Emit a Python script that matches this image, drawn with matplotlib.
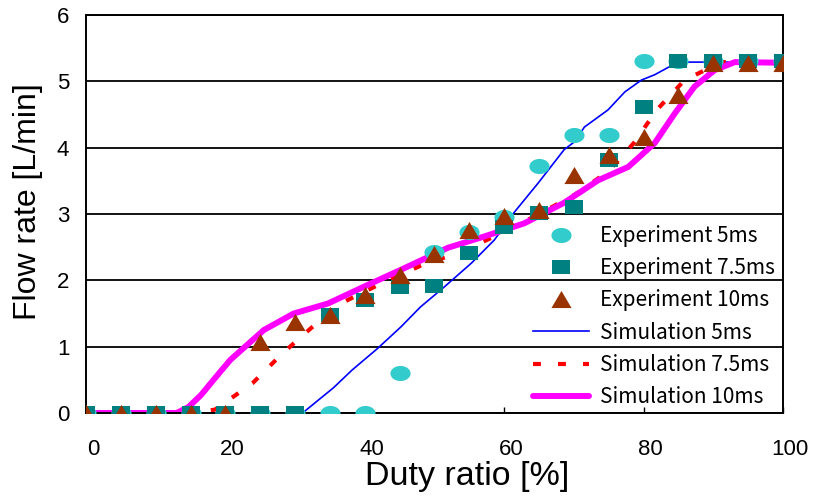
import numpy as np
import matplotlib
matplotlib.use("Agg")
import matplotlib.pyplot as plt
from matplotlib.transforms import ScaledTranslation

# ---------------- data ----------------
duty = [0, 5, 10, 15, 20, 25, 30, 35, 40, 45, 50, 55, 60, 65, 70, 75, 80, 85, 90, 95, 100]
exp_5ms = [0, 0, 0, 0, 0, 0, 0, 0, 0, 0.6, 2.43, 2.73, 2.96, 3.72, 4.19, 4.19, 5.3, 5.3, 5.3, 5.3, 5.3]
exp_75ms = [0, 0, 0, 0, 0, 0, 0, 1.48, 1.7, 1.9, 1.92, 2.41, 2.8, 3.02, 3.1, 3.82, 4.61, 5.3, 5.3, 5.3, 5.3]
exp_10ms = [0, 0, 0, 0, 0, 1.07, 1.37, 1.48, 1.78, 2.08, 2.4, 2.76, 2.97, 3.06, 3.59, 3.89, 4.16, 4.8, 5.28, 5.28, 5.28]

sim5_x = [0, 30, 31.3, 32.7, 35.5, 38.2, 41.8, 45.2, 48, 51.4, 55.3, 58.6, 61.4, 64.9, 68.6, 70.1,
          71.5, 74.9, 77.3, 79.7, 81.6, 83.7, 85, 100]
sim5_y = [0, 0, 0.02, 0.14, 0.38, 0.65, 0.97, 1.3, 1.6, 1.9, 2.26, 2.61, 3.02, 3.47, 3.97, 4.09,
          4.31, 4.57, 4.84, 5.02, 5.1, 5.22, 5.29, 5.29]

sim75_x = [0, 13, 15, 18.5, 23.9, 28.2, 32.4, 37.1, 42.5, 48, 53.8, 59.6, 65, 70.1, 74.9, 78.6,
           81.9, 85.9, 91.2, 100]
sim75_y = [0, 0, 0, 0.05, 0.45, 0.9, 1.29, 1.68, 1.96, 2.22, 2.43, 2.71, 3.0, 3.29, 3.64, 4.07,
           4.57, 5.02, 5.29, 5.29]

sim10_x = [0, 13, 14.7, 16.5, 18.3, 20.7, 25.5, 29.8, 34.7, 40.4, 45.2, 51.9, 57.1, 62.9, 68.6,
           73.5, 77.8, 81.6, 84.5, 87.3, 90.2, 93.1, 100]
sim10_y = [0, 0, 0.09, 0.27, 0.5, 0.8, 1.25, 1.5, 1.65, 1.93, 2.16, 2.49, 2.66, 2.86, 3.17,
           3.51, 3.71, 4.07, 4.52, 4.92, 5.17, 5.29, 5.28]

x_ticks = [0, 20, 40, 60, 80, 100]
y_ticks = [0, 1, 2, 3, 4, 5, 6]

# ---------------- markers (slightly wide shapes) ----------------
t = np.linspace(0, 2 * np.pi, 60)
ellipse = np.column_stack([np.cos(t), 0.75 * np.sin(t)])
rect = [(-1, -0.83), (1, -0.83), (1, 0.83), (-1, 0.83), (-1, -0.83)]
tri = [(-1, -0.85), (1, -0.85), (0, 0.85), (-1, -0.85)]

fig = plt.figure(figsize=(8.16, 4.97), dpi=100)
ax = fig.add_axes([86 / 816, 1 - 413 / 497, (783 - 86) / 816, (413 - 15) / 497])

ax.plot(sim5_x, sim5_y, color="#0000FF", lw=1.2, zorder=2, label="Simulation 5ms")
ax.plot(sim75_x, sim75_y, color="#FF0000", lw=3, dashes=(1.9, 4.1), zorder=2, label="Simulation 7.5ms")
ax.plot(sim10_x, sim10_y, color="#FF00FF", lw=4.3, zorder=2.1, label="Simulation 10ms",
        solid_capstyle="round")

ax.plot(duty, exp_5ms, ls="none", marker=ellipse, ms=14.5, color="#33CCCC", mew=0,
        zorder=3, label="Experiment 5ms")
ax.plot(duty, exp_75ms, ls="none", marker=rect, ms=13, color="#008080", mew=0,
        zorder=3.1, label="Experiment 7.5ms")
ax.plot(duty, exp_10ms, ls="none", marker=tri, ms=14.5, color="#993300", mew=0,
        zorder=3.2, label="Experiment 10ms")

ax.set_xlim(0, 100)
ax.set_ylim(0, 6)
ax.set_xticks(x_ticks)
ax.set_yticks(y_ticks)
ax.yaxis.grid(True, color="black", lw=1.3)
ax.set_axisbelow(True)
for s in ax.spines.values():
    s.set_linewidth(1.4)
    s.set_color("black")

ax.tick_params(axis="x", direction="in", length=4, width=1, pad=19, labelsize=16)
ax.tick_params(axis="y", length=0, pad=12, labelsize=16)
for lab in ax.get_xticklabels() + ax.get_yticklabels():
    lab.set_family("Liberation Sans")
off = ScaledTranslation(7 / 100, 0, fig.dpi_scale_trans)
for lab in ax.get_xticklabels():
    lab.set_transform(lab.get_transform() + off)

ax.set_xlabel("Duty ratio [%]", fontsize=24.5, family="Liberation Sans")
ax.xaxis.set_label_coords(467 / 816, 1 - 461 / 497, transform=fig.transFigure)
ax.set_ylabel("Flow rate [L/min]", fontsize=23, family="Liberation Sans")
ax.yaxis.set_label_coords(28 / 816, 1 - 202 / 497, transform=fig.transFigure)
ax.yaxis.label.set_va("center")

handles, labels = ax.get_legend_handles_labels()
order = [3, 4, 5, 0, 1, 2]
leg = ax.legend([handles[i] for i in order], [labels[i] for i in order],
                loc="upper left", bbox_to_anchor=(533 / 816, 1 - 225 / 497),
                bbox_transform=fig.transFigure, frameon=False,
                prop={"family": "Noto Sans CJK JP", "size": 15},
                handlelength=2.7, handletextpad=0.5, labelspacing=0.49,
                borderpad=0, borderaxespad=0, markerscale=1.0)

fig.savefig("out.png", dpi=100)
